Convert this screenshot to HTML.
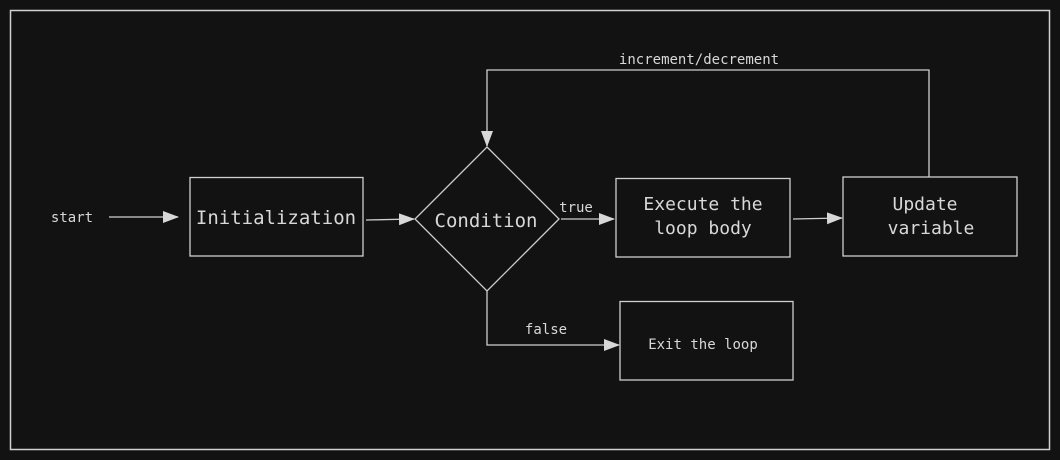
<!DOCTYPE html>
<html><head><style>
body{margin:0;background:#121212;}
svg{display:block;}
text{font-family:"DejaVu Sans Mono","Liberation Mono",monospace;fill:#d8d8d8;}
</style></head><body>
<svg width="1060" height="460" viewBox="0 0 1060 460">
<rect x="0" y="0" width="1060" height="460" fill="#121212"/>
<rect x="10.5" y="10.5" width="1039" height="439" fill="none" stroke="#d0d0d0" stroke-width="1.5"/>
<defs><marker id="a" markerWidth="10" markerHeight="10" refX="9" refY="5" orient="auto" markerUnits="userSpaceOnUse"><path d="M0,0 L14,5 L0,10 z" fill="#d8d8d8"/></marker>
<marker id="b" markerWidth="16" markerHeight="12" refX="15" refY="6" orient="auto" markerUnits="userSpaceOnUse"><path d="M0,0 L16,6 L0,12 z" fill="#d8d8d8"/></marker></defs>
<g stroke="#cfcfcf" stroke-width="1.3" fill="none">
<rect x="190" y="177.5" width="173" height="78.5"/>
<path d="M487,147 L559,219 L487,291 L415,219 Z"/>
<rect x="616" y="178.5" width="174" height="78.5"/>
<rect x="843" y="177" width="174" height="79"/>
<rect x="620" y="301.5" width="173" height="78.5"/>
<line x1="109" y1="217" x2="178" y2="217" marker-end="url(#b)"/>
<line x1="366" y1="220" x2="414" y2="219" marker-end="url(#b)"/>
<line x1="561" y1="219" x2="614" y2="219" marker-end="url(#b)"/>
<line x1="793" y1="219" x2="842" y2="218" marker-end="url(#b)"/>
<path d="M929,177 L929,70 L487,70 L487,146" marker-end="url(#b)"/>
<path d="M487,291 L487,345 L619,345" marker-end="url(#b)"/>
</g>
<text x="72" y="222" font-size="14" text-anchor="middle">start</text>
<text x="276" y="224" font-size="19" text-anchor="middle">Initialization</text>
<text x="486" y="227" font-size="19" text-anchor="middle">Condition</text>
<text x="576" y="212" font-size="14" text-anchor="middle">true</text>
<text x="703" y="210" font-size="18" text-anchor="middle">Execute the</text>
<text x="703" y="234" font-size="18" text-anchor="middle">loop body</text>
<text x="925" y="210" font-size="18" text-anchor="middle">Update</text>
<text x="931" y="234" font-size="18" text-anchor="middle">variable</text>
<text x="546" y="334" font-size="14" text-anchor="middle">false</text>
<text x="703" y="349" font-size="14" text-anchor="middle">Exit the loop</text>
<text x="699" y="64" font-size="14" text-anchor="middle">increment/decrement</text>
</svg>
</body></html>
